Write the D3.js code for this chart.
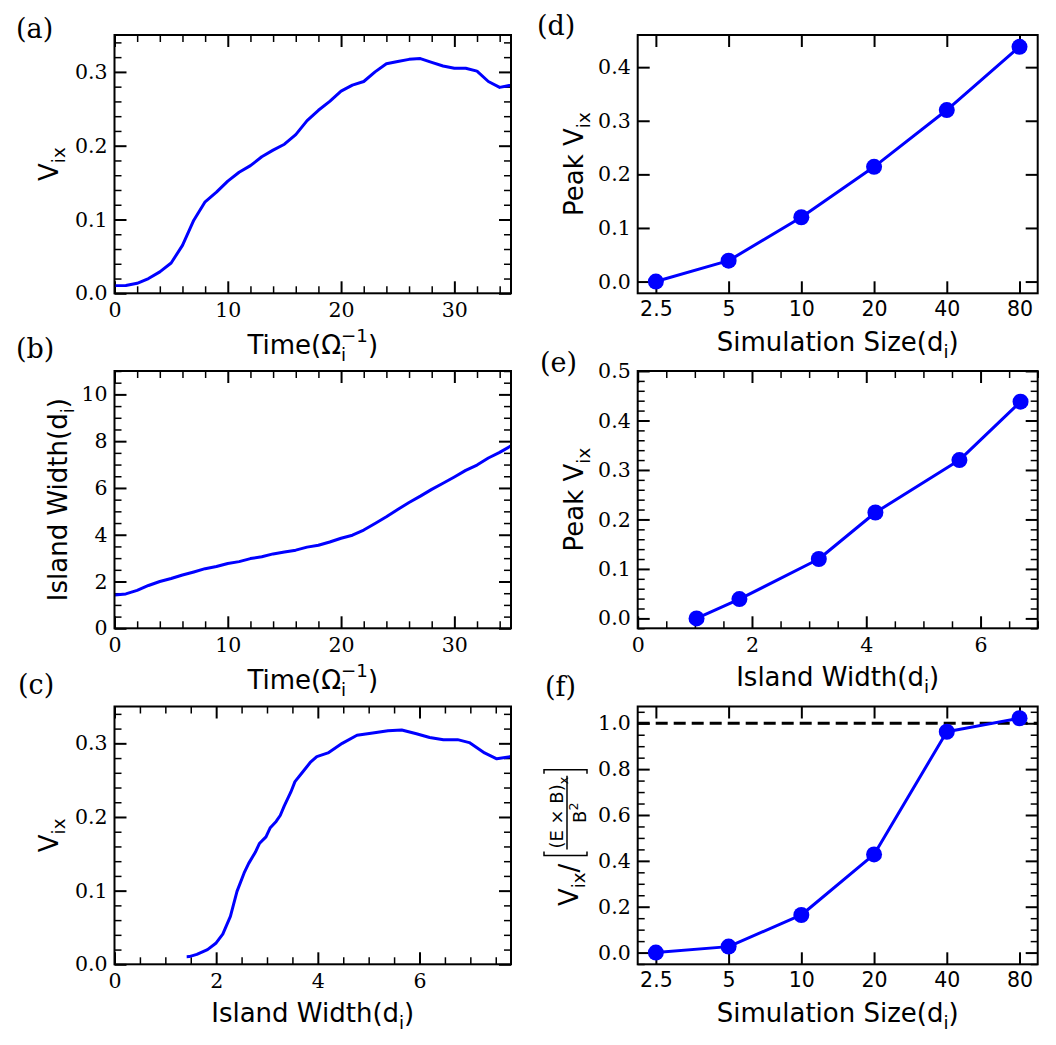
<!DOCTYPE html>
<html>
<head>
<meta charset="utf-8">
<script src="https://cdn.jsdelivr.net/npm/d3@7"></script>
<style>
  body { margin: 0; background: #fff; }
  svg { display: block; }
  .lab { font-family: "DejaVu Sans"; font-size: 26px; fill: #000; }
  .plab { font-family: "DejaVu Serif"; font-size: 27px; fill: #000; }
</style>
</head>
<body>
<svg width="1056" height="1045"></svg>
<script>
// time series, panels (a)-(c)
var time = [0, 1, 2, 3, 4, 5, 6, 7, 8, 9, 10, 11, 12, 13, 14, 15, 16, 17,
            18, 19, 20, 21, 22, 23, 24, 25, 26, 27, 28, 29, 30, 31, 32, 33, 34, 35];
var vix = [0.0104, 0.0105, 0.0135, 0.020, 0.029, 0.041, 0.065, 0.099, 0.124, 0.137,
           0.152, 0.164, 0.173, 0.185, 0.194, 0.202, 0.215, 0.234, 0.248, 0.260,
           0.274, 0.282, 0.287, 0.300, 0.311, 0.314, 0.317, 0.318, 0.313, 0.308,
           0.305, 0.305, 0.301, 0.287, 0.279, 0.282];
var islandWidth = [1.42, 1.47, 1.62, 1.83, 2.00, 2.13, 2.28, 2.41, 2.55, 2.64,
                   2.77, 2.85, 2.98, 3.06, 3.18, 3.26, 3.34, 3.47, 3.55, 3.69,
                   3.85, 3.98, 4.20, 4.48, 4.77, 5.08, 5.38, 5.65, 5.94, 6.20,
                   6.47, 6.75, 6.98, 7.28, 7.52, 7.80];

// scan over simulation size, panels (d)-(f)
var simSizes = ["2.5", "5", "10", "20", "40", "80"];
var peakVix = [0.000, 0.039, 0.120, 0.214, 0.320, 0.438];
var finalWidth = [1.03, 1.78, 3.17, 4.16, 5.63, 6.70];
var vixRatio = [0.000, 0.026, 0.164, 0.428, 0.963, 1.022];

// tick values
var timeTicks = [0, 10, 20, 30];
var widthTicks = [0, 2, 4, 6];
var vixTicks = [0, 0.1, 0.2, 0.3];
var widthTicksY = [0, 2, 4, 6, 8, 10];
var peakTicks = [0, 0.1, 0.2, 0.3, 0.4];
var peakTicksE = [0, 0.1, 0.2, 0.3, 0.4, 0.5];
var ratioTicks = [0, 0.2, 0.4, 0.6, 0.8, 1.0];
var simIndex = [0, 1, 2, 3, 4, 5];

var svg = d3.select("svg");
var blue = "#0000ff";
var cols = [[114.5, 511], [637.7, 1037.7]];
var rows = [[35, 293.3], [371, 628.3], [706.5, 964.3]];
var f1 = d3.format(".1f"), fd = d3.format("d");
var none = function() { return ""; };

function minorTicks(domain, step, major) {
  var lo = Math.ceil(domain[0] / step - 1e-6), hi = Math.floor(domain[1] / step + 1e-6);
  return d3.range(lo, hi + 1).map(function(i) { return i * step; }).filter(function(v) {
    return !major.some(function(m) { return Math.abs(m - v) < step / 1000; });
  });
}

function axisPart(g, axis, tr, vals, size, fmt, pad, font, width) {
  var s = g.append("g").attr("transform", tr)
    .call(axis.tickValues(vals).tickSize(size).tickPadding(pad).tickFormat(fmt));
  s.select(".domain").remove();
  s.selectAll("line").attr("stroke", "#000").attr("stroke-width", width);
  s.selectAll("text").style("font-family", font).style("font-size", "20.5px").style("fill", "#000");
  return s;
}

function panel(p) {
  var x0 = cols[p.col][0], x1 = cols[p.col][1], y0 = rows[p.row][0], y1 = rows[p.row][1];
  var x = d3.scaleLinear().domain(p.xDomain).range([x0, x1]);
  var y = d3.scaleLinear().domain(p.yDomain).range([y1, y0]);
  var g = svg.append("g");
  g.append("clipPath").attr("id", "clip" + p.name)
    .append("rect").attr("x", x0).attr("y", y0).attr("width", x1 - x0).attr("height", y1 - y0);

  var xf = p.xLabels ? function(d, i) { return p.xLabels[i]; } : p.xFmt;
  var xfont = p.xLabels ? "DejaVu Sans" : "DejaVu Serif";
  axisPart(g, d3.axisBottom(x), "translate(0," + y1 + ")", p.xMajor, -12, xf, p.xLabels ? 8 : 9, xfont, 2);
  axisPart(g, d3.axisTop(x), "translate(0," + y0 + ")", p.xMajor, -12, none, 0, xfont, 2);
  axisPart(g, d3.axisLeft(y), "translate(" + x0 + ",0)", p.yMajor, -12, p.yFmt, 7, "DejaVu Serif", 2);
  axisPart(g, d3.axisRight(y), "translate(" + x1 + ",0)", p.yMajor, -12, none, 0, "DejaVu Serif", 2);
  if (p.xMinor) {
    var xm = minorTicks(p.xDomain, p.xMinor, p.xMajor);
    axisPart(g, d3.axisBottom(x), "translate(0," + y1 + ")", xm, -7, none, 0, xfont, 1.5);
    axisPart(g, d3.axisTop(x), "translate(0," + y0 + ")", xm, -7, none, 0, xfont, 1.5);
  }
  if (p.yMinor) {
    var ym = minorTicks(p.yDomain, p.yMinor, p.yMajor);
    axisPart(g, d3.axisLeft(y), "translate(" + x0 + ",0)", ym, -7, none, 0, "DejaVu Serif", 1.5);
    axisPart(g, d3.axisRight(y), "translate(" + x1 + ",0)", ym, -7, none, 0, "DejaVu Serif", 1.5);
  }
  var plot = g.append("g");
  g.append("rect").attr("x", x0).attr("y", y0).attr("width", x1 - x0).attr("height", y1 - y0)
    .attr("fill", "none").attr("stroke", "#000").attr("stroke-width", 2);

  g.append("text").attr("class", "plab").attr("x", p.tag[0]).attr("y", p.tag[1]).text(p.tag[2]);
  if (p.xTitle) {
    var xt = g.append("text").attr("class", "lab").attr("text-anchor", "middle")
      .attr("x", (x0 + x1) / 2).attr("y", y1 + p.xTitleOff);
    rich(xt, p.xTitle, 26);
  }
  if (p.yTitle) {
    var yt = g.append("text").attr("class", "lab").attr("text-anchor", "middle")
      .attr("transform", "translate(" + p.yTitleX + "," + (y0 + y1) / 2 + ") rotate(-90)");
    rich(yt, p.yTitle, 26);
  }
  return { x: x, y: y, plot: plot, clip: "url(#clip" + p.name + ")" };
}

// text with sub/superscripts, parts: [text, kind] with kind "", "sub", "sup", "supstack"
function rich(sel, parts, size) {
  var shift = 0, lastW = 0;
  sel.style("font-size", size + "px");
  parts.forEach(function(q) {
    var s = sel.append("tspan").text(q[0]);
    var target = q[1] == "sub" ? 0.26 * size : (q[1] == "sup" || q[1] == "supstack") ? -0.46 * size : 0;
    if (target != shift) s.attr("dy", target - shift);
    shift = target;
    if (q[1]) s.style("font-size", (0.7 * size) + "px");
    if (q[1] == "supstack") s.attr("dx", -lastW);
    lastW = s.node().getComputedTextLength();
  });
}

function drawLine(pn, xs, ys) {
  pn.plot.append("path")
    .datum(d3.range(xs.length))
    .attr("clip-path", pn.clip)
    .attr("fill", "none").attr("stroke", blue).attr("stroke-width", 3)
    .attr("stroke-linejoin", "round")
    .attr("d", d3.line().x(function(i) { return pn.x(xs[i]); }).y(function(i) { return pn.y(ys[i]); }));
}

function drawDots(pn, xs, ys) {
  drawLine(pn, xs, ys);
  pn.plot.selectAll("circle.m").data(d3.range(xs.length)).enter().append("circle")
    .attr("cx", function(i) { return pn.x(xs[i]); })
    .attr("cy", function(i) { return pn.y(ys[i]); })
    .attr("r", 8).attr("fill", blue);
}

var timeTitle = [["Time(Ω", ""], ["i", "sub"], ["−1", "supstack"], [")", ""]];
var vixTitle = [["V", ""], ["ix", "sub"]];

var pa = panel({ name: "a", col: 0, row: 0, xDomain: [0, 35], yDomain: [0, 0.35],
  xMajor: timeTicks, xMinor: 2, yMajor: vixTicks, yMinor: 0.02, xFmt: fd, yFmt: f1,
  tag: [16, 38, "(a)"], xTitle: timeTitle, xTitleOff: 61, yTitle: vixTitle, yTitleX: 58 });
drawLine(pa, time, vix);

var pb = panel({ name: "b", col: 0, row: 1, xDomain: [0, 35], yDomain: [0, 11],
  xMajor: timeTicks, xMinor: 2, yMajor: widthTicksY, yMinor: 0.5, xFmt: fd, yFmt: fd,
  tag: [16, 358, "(b)"], xTitle: timeTitle, xTitleOff: 61,
  yTitle: [["Island Width(d", ""], ["i", "sub"], [")", ""]], yTitleX: 67 });
drawLine(pb, time, islandWidth);

var pc = panel({ name: "c", col: 0, row: 2, xDomain: [0, 7.8], yDomain: [0, 0.35],
  xMajor: widthTicks, xMinor: 0.5, yMajor: vixTicks, yMinor: 0.02, xFmt: fd, yFmt: f1,
  tag: [18, 694, "(c)"], xTitle: [["Island Width(d", ""], ["i", "sub"], [")", ""]], xTitleOff: 58,
  yTitle: vixTitle, yTitleX: 58 });
drawLine(pc, islandWidth, vix);

var simTitle = [["Simulation Size(d", ""], ["i", "sub"], [")", ""]];
var peakTitle = [["Peak V", ""], ["ix", "sub"]];

var pd = panel({ name: "d", col: 1, row: 0, xDomain: [-0.25, 5.25], yDomain: [-0.0219, 0.46],
  xMajor: simIndex, xLabels: simSizes, yMajor: peakTicks, yFmt: f1,
  tag: [537, 35, "(d)"], xTitle: simTitle, xTitleOff: 58, yTitle: peakTitle, yTitleX: 583 });
drawDots(pd, simIndex, peakVix);

var pe = panel({ name: "e", col: 1, row: 1, xDomain: [0, 7], yDomain: [-0.02, 0.5],
  xMajor: widthTicks, xMinor: 0.5, yMajor: peakTicksE, yMinor: 0.02, xFmt: fd, yFmt: f1,
  tag: [540, 372, "(e)"], xTitle: [["Island Width(d", ""], ["i", "sub"], [")", ""]], xTitleOff: 58,
  yTitle: peakTitle, yTitleX: 583 });
drawDots(pe, finalWidth, peakVix);

var pf = panel({ name: "f", col: 1, row: 2, xDomain: [-0.25, 5.25], yDomain: [-0.0511, 1.0731],
  xMajor: simIndex, xLabels: simSizes, yMajor: ratioTicks, yMinor: 0.05, yFmt: f1,
  tag: [545, 696, "(f)"], xTitle: simTitle, xTitleOff: 58 });
pf.plot.append("line")
  .attr("x1", pf.x(-0.25)).attr("x2", pf.x(5.25)).attr("y1", pf.y(1)).attr("y2", pf.y(1))
  .attr("stroke", "#000").attr("stroke-width", 3).attr("stroke-dasharray", "12,6");
drawDots(pf, simIndex, vixRatio);

// y label of (f): V_ix / [ (E x B)_x / B^2 ]
var fl = svg.append("g").attr("transform", "translate(578,906) rotate(-90)");
var t1 = fl.append("text").attr("class", "lab");
rich(t1, [["V", ""], ["ix", "sub"], ["/", ""]], 26);
var w1 = t1.node().getComputedTextLength();
var open = w1 + 8;
var num = fl.append("text").attr("class", "lab").attr("text-anchor", "middle").attr("y", -15);
rich(num, [["(E × B)", ""], ["x", "sub"]], 18);
var numW = num.node().getComputedTextLength();
var close = open + numW + 14;
num.attr("x", (open + close) / 2);
var den = fl.append("text").attr("class", "lab").attr("text-anchor", "middle")
  .attr("x", (open + close) / 2).attr("y", 8);
rich(den, [["B", ""], ["2", "sup"]], 18);
fl.append("line").attr("x1", open + 6).attr("x2", close - 6).attr("y1", -11).attr("y2", -11)
  .attr("stroke", "#000").attr("stroke-width", 1.5);
fl.append("path")
  .attr("d", "M" + (open + 4) + ",-34H" + open + "V9H" + (open + 4) +
             "M" + (close - 4) + ",-34H" + close + "V9H" + (close - 4))
  .attr("fill", "none").attr("stroke", "#000").attr("stroke-width", 1.5);
</script>
</body>
</html>
